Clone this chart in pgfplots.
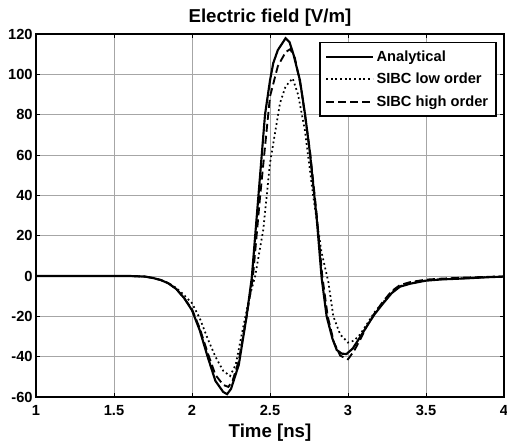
\documentclass[border=0pt]{standalone}
\usepackage{fontspec}
\setmainfont{Liberation Sans}
\usepackage{pgfplots}
\pgfplotsset{compat=1.18}
\begin{document}
\begin{tikzpicture}
\begin{axis}[
  scale only axis,
  width=351pt, height=272.25pt,
  xmin=1, xmax=4, ymin=-60, ymax=120,
  xtick={1,1.5,2,2.5,3,3.5,4},
  ytick={-60,-40,-20,0,20,40,60,80,100,120},
  /pgf/number format/assume math mode=true,
  ticklabel style={font=\fontsize{11}{12}\selectfont\bfseries},
  grid=major,
  major grid style={gray!70, line width=0.5pt},
  axis line style={black, line width=1pt},
  tick align=inside, major tick length=3pt,
  tick style={black, line width=0.6pt},
  xticklabel style={yshift=-2.5pt},
  yticklabel style={xshift=1pt},
  title={\fontsize{14}{16}\selectfont\bfseries Electric field [V/m]},
  title style={yshift=-4pt},
  xlabel={\fontsize{14}{16}\selectfont\bfseries Time [ns]},
  xlabel style={yshift=0.5pt},
  legend style={at={(0.985,0.979)}, anchor=north east, draw=black, line width=1.2pt,
    font=\fontsize{11}{12}\selectfont\bfseries, row sep=3.5pt, inner xsep=4pt, inner ysep=4pt},
  legend cell align=left,
  legend image code/.code={\draw[#1] (0pt,0pt) -- (35pt,0pt);},
]
\addplot[black, line width=1.6pt] coordinates {
(1.0,0) (1.6,0) (1.7,-0.3) (1.75,-1.0) (1.8,-2.0) (1.85,-3.7) (1.9,-6.5) (1.95,-11)
(2.0,-17) (2.05,-27) (2.1,-40) (2.15,-52) (2.2,-57.5) (2.225,-58.6) (2.25,-56)
(2.3,-44) (2.35,-20) (2.383,-1) (2.425,39) (2.468,80) (2.5,97) (2.521,105.6)
(2.55,112) (2.6,117.9) (2.625,116) (2.65,110) (2.692,97) (2.725,80) (2.756,61)
(2.8,28) (2.831,-1) (2.863,-20) (2.9,-31) (2.928,-36.7) (2.96,-38.5) (2.99,-38.7)
(3.03,-36) (3.08,-30) (3.12,-25) (3.17,-19) (3.226,-13.5) (3.28,-8.5) (3.333,-5.3)
(3.4,-3.8) (3.5,-2.3) (3.6,-1.7) (3.75,-1.2) (3.9,-0.6) (4.0,-0.3)
};
\addlegendentry{Analytical}
\addplot[black, line width=1.3pt, dash pattern=on 1.3pt off 2.2pt] coordinates {
(1.0,0) (1.6,0) (1.7,-0.3) (1.75,-0.9) (1.8,-2) (1.85,-3.5) (1.9,-6) (1.95,-9.5)
(2.0,-13.5) (2.05,-21) (2.1,-31) (2.15,-40) (2.2,-47) (2.244,-49.6) (2.28,-44)
(2.329,-25) (2.37,-10) (2.405,0) (2.457,23) (2.5,56) (2.564,85.7) (2.6,94)
(2.645,98) (2.68,90) (2.724,72) (2.778,39) (2.83,12) (2.874,-3) (2.906,-20)
(2.95,-29) (3.0,-33) (3.04,-32) (3.077,-29) (3.12,-24) (3.17,-18) (3.226,-13)
(3.28,-8) (3.333,-5) (3.4,-3.6) (3.5,-2.2) (3.6,-1.6) (3.75,-1.1) (3.9,-0.5) (4.0,-0.3)
};
\addlegendentry{SIBC low order}
\addplot[black, line width=1.4pt, dash pattern=on 6pt off 3pt] coordinates {
(1.0,0) (1.6,0) (1.7,-0.3) (1.75,-1.0) (1.8,-2.0) (1.85,-3.7) (1.9,-6.5) (1.95,-11)
(2.0,-16.5) (2.05,-26) (2.1,-38) (2.15,-49) (2.2,-54) (2.233,-55) (2.26,-52)
(2.3,-42) (2.35,-20) (2.39,-1) (2.436,39) (2.5,89) (2.55,104) (2.6,111) (2.63,112.5)
(2.66,108) (2.7,93) (2.756,62) (2.8,30) (2.835,0) (2.87,-20) (2.91,-33) (2.95,-39.5)
(3.0,-41.3) (3.04,-37) (3.077,-31.7) (3.12,-25) (3.17,-18.5) (3.226,-12.5) (3.28,-7.5)
(3.333,-4.5) (3.4,-3) (3.5,-1.8) (3.6,-1.3) (3.75,-0.8) (3.9,-0.4) (4.0,-0.2)
};
\addlegendentry{SIBC high order}
\end{axis}
\pgfresetboundingbox
\path[use as bounding box] (current axis.south west) ++(-27pt,-33.75pt) rectangle ++(380.25pt,331.5pt);
\end{tikzpicture}
\end{document}
